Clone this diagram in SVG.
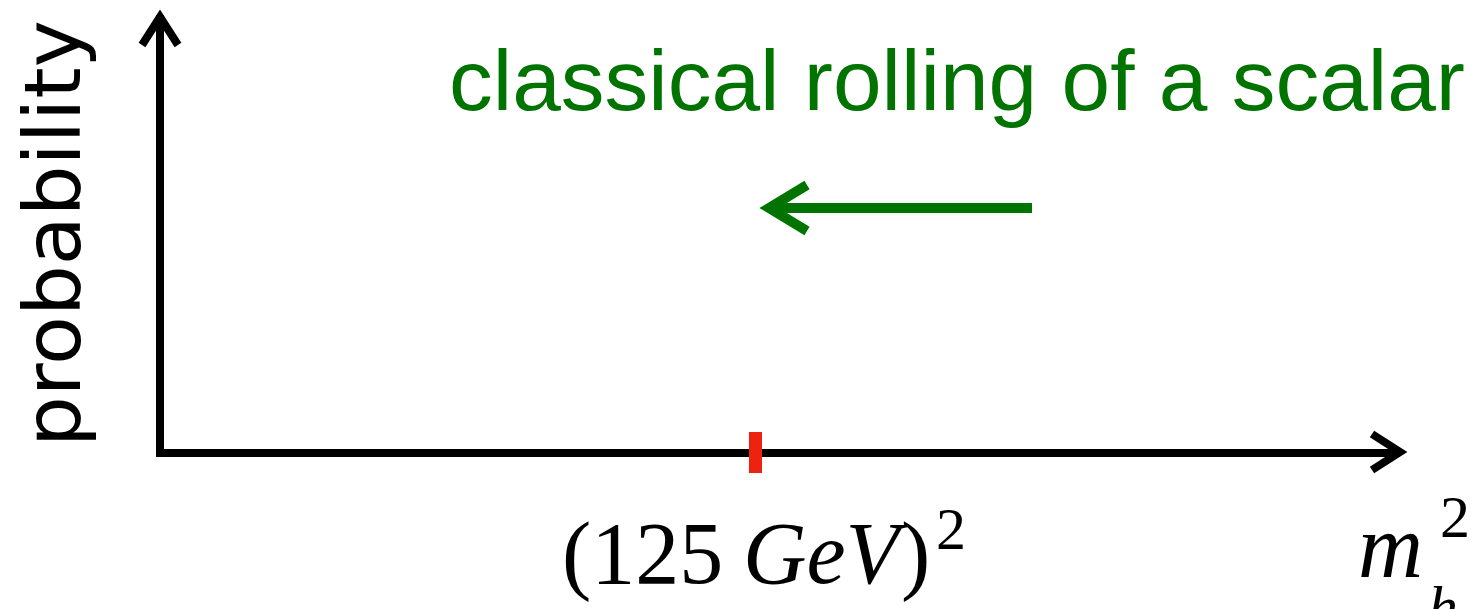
<svg xmlns="http://www.w3.org/2000/svg" width="1480" height="609" viewBox="0 0 1480 609">
<style>
.ax{fill:none;stroke:#000;stroke-width:8;stroke-linecap:butt;stroke-linejoin:miter}
.gr{fill:none;stroke:#007300;stroke-width:10}
.math{font-family:"Liberation Serif","Times New Roman",serif;fill:#000}
.lab{font-family:"Liberation Sans",Arial,sans-serif}
</style>
<rect width="1480" height="609" fill="#fff"/>
<g id="connectors">
<path class="ax" d="M160,15 V453 H1400"/>
<path class="ax" d="M142,45 L160,17 L178,45"/>
<path class="ax" d="M1372,434 L1400,452 L1372,470"/>
<path class="gr" d="M1032,208 H770"/>
<path class="gr" d="M807,185 L769,208 L807,231"/>
</g>
<g id="tick"><rect x="749" y="432" width="13" height="41" fill="#ee2211"/></g>
<g id="ylabel"><text transform="translate(80,447) rotate(-90)" font-size="79" textLength="427" lengthAdjust="spacingAndGlyphs" fill="#000" style="font-family:'DejaVu Sans',sans-serif">probability</text></g>
<g id="green-label"><text class="lab" x="449" y="110" font-size="86" fill="#007300" textLength="1016" lengthAdjust="spacingAndGlyphs">classical rolling of a scalar</text></g>
<g id="tick-label"><text class="math" y="583" font-size="88"><tspan x="562">(125</tspan><tspan x="743" font-style="italic">GeV</tspan><tspan x="901">)</tspan><tspan x="936" y="549" font-size="60">2</tspan></text></g>
<g id="x-label"><text class="math" font-style="italic" font-size="90"><tspan x="1358" y="577">m</tspan><tspan x="1440" y="537" font-size="60" font-style="normal">2</tspan><tspan x="1428" y="627" font-size="60">h</tspan></text></g>
</svg>
